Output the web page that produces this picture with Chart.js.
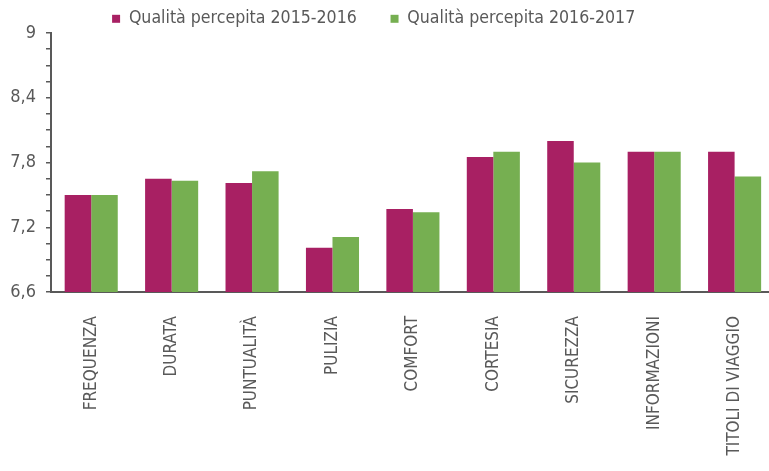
<!DOCTYPE html>
<html>
<head>
<meta charset="utf-8">
<script src="https://cdn.jsdelivr.net/npm/chart.js@4"></script>
<style>
  html, body { margin: 0; padding: 0; background: #fff; overflow: hidden; }
  #wrap { width: 779px; height: 471px; }
</style>
</head>
<body>
<div id="wrap"><canvas id="qualityChart"></canvas></div>
<script>
// categories and values
const categories = ['FREQUENZA', 'DURATA', 'PUNTUALITÀ', 'PULIZIA', 'COMFORT', 'CORTESIA', 'SICUREZZA', 'INFORMAZIONI', 'TITOLI DI VIAGGIO'];
const seriesNames = ['Qualità percepita 2015-2016', 'Qualità percepita 2016-2017'];
const values2015 = [7.50, 7.65, 7.61, 7.01, 7.37, 7.85, 8.00, 7.90, 7.90];
const values2016 = [7.50, 7.63, 7.72, 7.11, 7.34, 7.90, 7.80, 7.90, 7.67];
const yMin = 6.6, yMax = 9, yStep = 0.15;

const font = '"DejaVu Sans Condensed", "Liberation Sans Narrow", "DejaVu Sans", sans-serif';
const textColor = '#595959';

// the plot runs a little past the right edge of the picture, so the canvas is wider than the window
const ctx = document.getElementById('qualityChart');
new Chart(ctx.getContext('2d'), {
    type: 'bar',
    data: {
        labels: categories,
        datasets: [{
            label: seriesNames[0],
            data: values2015,
            backgroundColor: '#A82063'
        }, {
            label: seriesNames[1],
            data: values2016,
            backgroundColor: '#76AF51'
        }]
    },
    options: {
        responsive: true,
        maintainAspectRatio: false,
        animation: false,
        categoryPercentage: 0.66,
        barPercentage: 1.0,
        layout: { padding: 0 },
        plugins: {
            tooltip: { enabled: false },
            legend: {
                position: 'top',
                labels: {
                    boxWidth: 8,
                    boxHeight: 8,
                    padding: 10,
                    color: textColor,
                    font: { family: font, size: 17.6 },
                    generateLabels(chart) {
                        const items = Chart.defaults.plugins.legend.labels.generateLabels(chart);
                        items[0].text += '\u2003\u2002';
                        items[1].text += '\u2003\u2003';
                        return items;
                    }
                }
            }
        },
        scales: {
            x: {
                grid: { display: false, drawTicks: false },
                border: { color: textColor, width: 2 },
                ticks: {
                    autoSkip: false,
                    minRotation: 90,
                    maxRotation: 90,
                    padding: 24,
                    color: textColor,
                    font: { family: font, size: 17 }
                },
                afterFit(scale) { scale.height = 179; }
            },
            y: {
                min: yMin,
                max: yMax,
                grid: { drawOnChartArea: false, drawTicks: true, tickLength: 5, color: textColor, lineWidth: 1.5 },
                border: { color: textColor, width: 2 },
                ticks: {
                    stepSize: yStep,
                    autoSkip: false,
                    padding: 10,
                    color: textColor,
                    font: { family: font, size: 18 },
                    callback(value, index) {
                        if (index % 4 !== 0) return '';
                        return String(Number(value.toFixed(1))).replace('.', ',');
                    }
                },
                afterFit(scale) { scale.width = 51; }
            }
        }
    },
    plugins: [{
        id: 'legendHeight',
        beforeInit(chart) {
            const fit = chart.legend.fit;
            chart.legend.fit = function () {
                fit.bind(chart.legend)();
                this.height = 33;
            };
        }
    }]
});
</script>
</body>
</html>
